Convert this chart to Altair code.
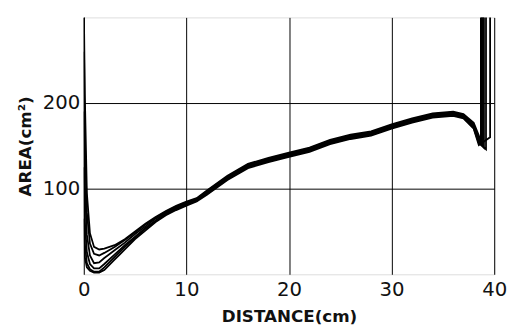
import altair as alt
import pandas as pd

xs = [0.0, 0.1, 0.3, 0.6, 1.0, 1.5, 2.0, 3.0, 4.0, 5.0, 6.0, 7.0, 8.0, 9.0, 10.0,
      11.0, 12.0, 14.0, 16.0, 18.0, 20.0, 22.0, 24.0, 26.0, 28.0, 30.0, 32.0,
      34.0, 36.0, 37.0, 38.0, 38.5]

s1 = [320, 210, 95, 48, 32, 29, 30, 34, 41, 50, 59, 67, 74, 80, 85, 89, 98, 115, 129, 136, 142, 148, 157, 163, 167, 175, 182, 188, 190, 187, 177, 162]
s2 = [300, 160, 72, 36, 24, 22, 25, 32, 40, 49, 58, 66, 73, 79, 84, 88, 97, 114, 128, 135, 141, 147, 156, 162, 166, 174, 181, 187, 189, 186, 175, 159]
s3 = [260, 105, 46, 22, 13, 14, 19, 28, 37, 47, 56, 65, 72, 78, 83, 87, 96, 113, 127, 134, 140, 146, 155, 161, 165, 173, 180, 186, 188, 185, 174, 157]
s4 = [190, 62, 26, 12, 7, 7, 12, 23, 34, 44, 54, 63, 71, 77, 82, 86, 95, 112, 126, 133, 139, 145, 154, 160, 164, 172, 179, 185, 187, 184, 172, 155]
s5 = [125, 36, 13, 6, 3, 3, 8, 20, 32, 43, 53, 62, 70, 76, 81, 86, 94, 111, 125, 132, 138, 144, 153, 159, 163, 171, 178, 184, 186, 183, 171, 153]
s6 = [65, 20, 8, 4, 2, 2, 5, 17, 29, 41, 51, 61, 69, 75, 80, 85, 93, 110, 124, 131, 137, 143, 152, 158, 162, 170, 177, 183, 185, 182, 170, 151]

end_x = [38.7, 38.8, 38.9, 39.0, 39.2, 39.6]
end_low = [155, 152, 150, 148, 146, 160]

series = [s1, s2, s3, s4, s5, s6]
rows = []
for k, ys in enumerate(series):
    pts = list(zip(xs, ys)) + [(end_x[k], end_low[k]), (end_x[k], 330)]
    for i, (x, y) in enumerate(pts):
        rows.append({"run": f"r{k}", "i": i, "x": x, "y": y})
df = pd.DataFrame(rows)

FONT = "DejaVu Sans"

chart = alt.Chart(df).mark_line(clip=True, color="black", strokeWidth=1.8).encode(
    x=alt.X("x:Q", scale=alt.Scale(domain=[0, 40], nice=False),
            axis=alt.Axis(values=[0, 10, 20, 30, 40], title="DISTANCE(cm)",
                          grid=True, gridColor="black", gridOpacity=1, gridWidth=1,
                          ticks=False, domain=False, labelPadding=6,
                          labelFontSize=20, labelColor="#111", labelFont=FONT,
                          titleFont=FONT, titleFontSize=17, titleFontWeight="bold",
                          titleColor="#111", titlePadding=9, labelFlush=False)),
    y=alt.Y("y:Q", scale=alt.Scale(domain=[0, 300], nice=False),
            axis=alt.Axis(values=[100, 200], title="AREA(cm²)",
                          grid=True, gridColor="black", gridOpacity=1, gridWidth=1,
                          ticks=False, domain=False, labelPadding=4,
                          labelFontSize=20, labelColor="#111", labelFont=FONT,
                          titleFont=FONT, titleFontSize=17, titleFontWeight="bold",
                          titleColor="#111", titlePadding=8)),
    detail="run:N",
    order="i:Q",
).properties(
    width=417, height=261,
    autosize=alt.AutoSizeParams(type="none"),
    padding={"left": 77, "top": 7, "right": 14, "bottom": 52},
).configure_view(stroke="black", strokeWidth=1.5).configure(background="white")

chart.save("out.html", embed_options={"renderer": "svg", "actions": False})
